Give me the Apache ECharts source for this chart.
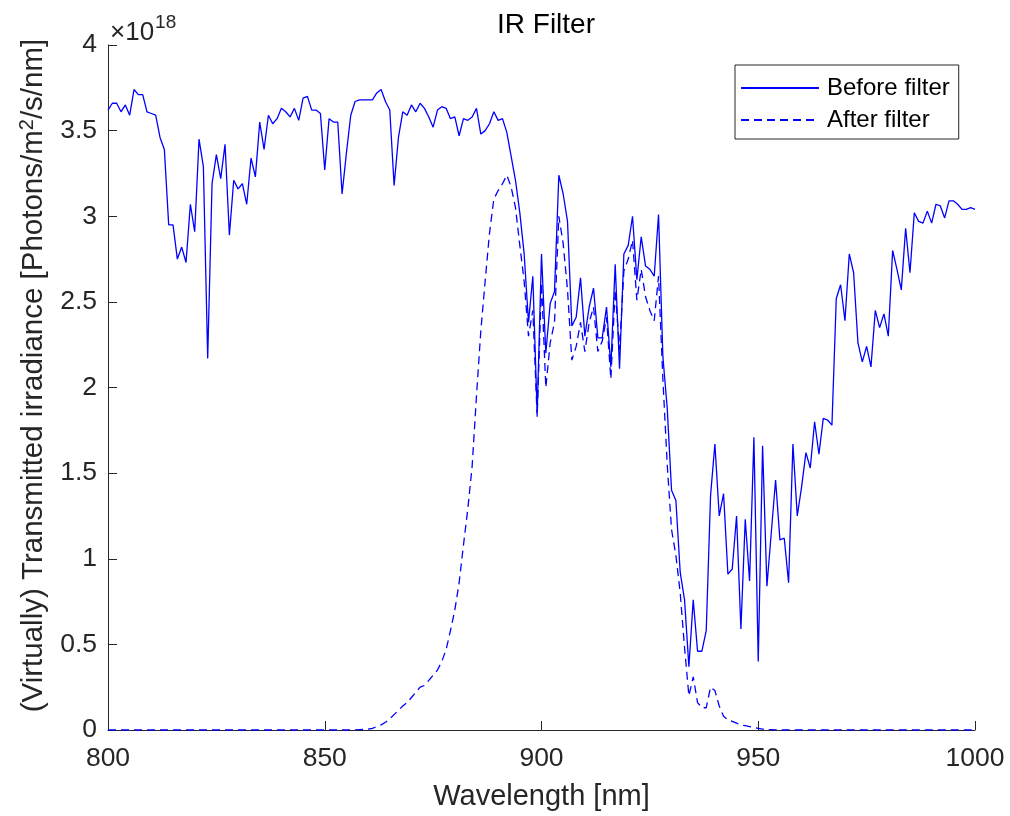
<!DOCTYPE html>
<html>
<head>
<meta charset="utf-8">
<script src="https://cdn.jsdelivr.net/npm/echarts@6/dist/echarts.min.js"></script>
<style>html,body{margin:0;padding:0;background:#fff}#c{width:1010px;height:816px}</style>
</head>
<body>
<div id="c"></div>
<script>
// Wavelengths (nm), 1 nm steps from 800 to 1000
const wavelengths = [];
for (let w = 800; w <= 1000; w++) wavelengths.push(w);

// Irradiance before the filter, in units of 1e18 photons/m^2/s/nm
const beforeFilter = [
  3.62,3.66,3.66,3.61,3.65,3.59,3.74,3.71,3.71,3.61, // 800-809
  3.60,3.59,3.46,3.39,2.95,2.95,2.75,2.82,2.73,3.07, // 810-819
  2.91,3.45,3.29,2.17,3.19,3.36,3.22,3.42,2.89,3.21, // 820-829
  3.16,3.19,3.07,3.34,3.23,3.55,3.39,3.59,3.54,3.57, // 830-839
  3.63,3.61,3.58,3.63,3.56,3.69,3.70,3.62,3.62,3.60, // 840-849
  3.27,3.57,3.55,3.55,3.13,3.37,3.59,3.67,3.68,3.68, // 850-859
  3.68,3.68,3.72,3.74,3.67,3.62,3.18,3.46,3.61,3.59, // 860-869
  3.65,3.61,3.66,3.63,3.58,3.52,3.62,3.64,3.63,3.57, // 870-879
  3.58,3.47,3.57,3.56,3.58,3.63,3.48,3.50,3.54,3.61, // 880-889
  3.56,3.57,3.49,3.35,3.21,3.02,2.78,2.38,2.65,1.85, // 890-899
  2.78,2.20,2.49,2.56,3.24,3.13,2.97,2.36,2.41,2.64, // 900-909
  2.30,2.47,2.58,2.29,2.29,2.47,2.12,2.72,2.11,2.78, // 910-919
  2.83,3.00,2.63,2.88,2.71,2.69,2.65,3.01,2.18,1.88, // 920-929
  1.40,1.34,0.92,0.76,0.37,0.76,0.46,0.46,0.58,1.37, // 930-939
  1.67,1.25,1.38,0.91,0.94,1.25,0.59,1.23,0.87,1.71, // 940-949
  0.40,1.66,0.84,1.15,1.46,1.11,1.12,0.86,1.67,1.25, // 950-959
  1.42,1.62,1.53,1.80,1.61,1.82,1.81,1.78,2.52,2.60, // 960-969
  2.39,2.78,2.67,2.26,2.15,2.24,2.12,2.45,2.35,2.43, // 970-979
  2.30,2.80,2.69,2.57,2.93,2.67,3.02,2.97,2.96,3.03, // 980-989
  2.96,3.07,3.06,2.99,3.09,3.09,3.07,3.04,3.04,3.05, // 990-999
  3.04                                               // 1000
];

// Irradiance after the filter, in units of 1e18 photons/m^2/s/nm
const afterFilter = [
  0,0,0,0,0,0,0,0,0,0,                               // 800-809
  0,0,0,0,0,0,0,0,0,0,                               // 810-819
  0,0,0,0,0,0,0,0,0,0,                               // 820-829
  0,0,0,0,0,0,0,0,0,0,                               // 830-839
  0,0,0,0,0,0,0,0,0,0,                               // 840-849
  0,0,0,0,0,0,0,0.001,0.002,0.003,                   // 850-859
  0.005,0.01,0.02,0.03,0.045,0.065,0.09,0.115,0.14,0.16, // 860-869
  0.19,0.22,0.25,0.26,0.29,0.32,0.35,0.40,0.47,0.58, // 870-879
  0.70,0.86,1.08,1.29,1.54,1.95,2.33,2.62,2.90,3.10, // 880-889
  3.15,3.19,3.24,3.17,3.05,2.83,2.62,2.30,2.45,1.83, // 890-899
  2.61,2.00,2.26,2.38,3.00,2.84,2.57,2.16,2.24,2.38, // 900-909
  2.21,2.38,2.47,2.21,2.27,2.41,2.05,2.57,2.22,2.68, // 910-919
  2.75,2.86,2.51,2.69,2.53,2.45,2.39,2.65,2.05,1.55, // 920-929
  1.17,1.02,0.80,0.48,0.20,0.31,0.16,0.13,0.13,0.25, // 930-939
  0.23,0.14,0.08,0.06,0.05,0.04,0.03,0.025,0.02,0.015, // 940-949
  0.01,0.005,0.003,0.002,0.001,0,0,0,0,0,            // 950-959
  0,0,0,0,0,0,0,0,0,0,                               // 960-969
  0,0,0,0,0,0,0,0,0,0,                               // 970-979
  0,0,0,0,0,0,0,0,0,0,                               // 980-989
  0,0,0,0,0,0,0,0,0,0,                               // 990-999
  0                                                  // 1000
];

const seriesNames = ['Before filter', 'After filter'];
const titleText = 'IR Filter';
const xAxisTitle = 'Wavelength [nm]';

const FONT = 'Liberation Sans, Arial, Helvetica, sans-serif';
const AX = '#262626';
const BLUE = '#0000ff';

const chart = echarts.init(document.getElementById('c'), null, {renderer: 'canvas'});
const pairs = ys => wavelengths.map((w, i) => [w, ys[i]]);

chart.setOption({
  backgroundColor: '#fff',
  animation: false,
  textStyle: {fontFamily: FONT},
  title: {
    text: titleText, left: 541, top: 6, textAlign: 'center',
    textStyle: {fontFamily: FONT, fontSize: 28, fontWeight: 'normal', color: '#000'}
  },
  grid: {left: 108, right: 35, top: 45, bottom: 85, containLabel: false},
  legend: {
    orient: 'vertical', left: 735, top: 65,
    padding: [11, 9, 7, 5], itemGap: 8,
    itemWidth: 78, itemHeight: 14,
    borderColor: AX, borderWidth: 1, borderRadius: 0, backgroundColor: '#fff',
    itemStyle: {opacity: 0, borderWidth: 0},
    textStyle: {fontFamily: FONT, fontSize: 24, color: '#000', padding: [0, 0, 0, 3]},
    data: seriesNames
  },
  xAxis: {
    type: 'value', min: 800, max: 1000, interval: 50,
    name: xAxisTitle, nameLocation: 'middle', nameGap: 52,
    nameTextStyle: {fontFamily: FONT, fontSize: 29, color: '#262626'},
    axisLine: {show: true, lineStyle: {color: AX, width: 1}},
    axisTick: {show: true, inside: true, length: 9, lineStyle: {color: AX}},
    axisLabel: {fontFamily: FONT, fontSize: 26.5, color: '#262626', margin: 15,
                formatter: v => String(v)},
    splitLine: {show: false}
  },
  yAxis: {
    type: 'value', min: 0, max: 4, interval: 0.5,
    name: '(Virtually) Transmitted irradiance [Photons/m{sup|2}/s/nm]',
    nameLocation: 'middle', nameGap: 36, nameRotate: 90,
    nameTextStyle: {
      fontFamily: FONT, fontSize: 29.5, color: '#262626',
      padding: [0, 0, 0, 24],
      rich: {sup: {fontFamily: FONT, fontSize: 20, color: '#262626', verticalAlign: 'top', padding: [0, 0, 14, 0]}}
    },
    axisLine: {show: true, lineStyle: {color: AX, width: 1}},
    axisTick: {show: true, inside: true, length: 9, lineStyle: {color: AX}},
    axisLabel: {fontFamily: FONT, fontSize: 26.5, color: '#262626', margin: 11,
                formatter: v => String(v)},
    splitLine: {show: false}
  },
  graphic: [{
    type: 'text', left: 110, top: 13,
    style: {
      text: '×10{s|18}',
      rich: {s: {fontSize: 19, fontFamily: FONT, fill: '#262626', verticalAlign: 'top', padding: [0, 0, 20, 1]}},
      fontFamily: FONT, fontSize: 26, fill: '#262626'
    }
  }],
  series: [
    {
      name: seriesNames[0], type: 'line', data: pairs(beforeFilter),
      symbol: 'none', showSymbol: false,
      lineStyle: {color: BLUE, width: 1.3, type: 'solid'},
      itemStyle: {color: BLUE}
    },
    {
      name: seriesNames[1], type: 'line', data: pairs(afterFilter),
      symbol: 'none', showSymbol: false,
      lineStyle: {color: BLUE, width: 1.3, type: [8, 5]},
      itemStyle: {color: BLUE}
    }
  ]
});
</script>
</body>
</html>
